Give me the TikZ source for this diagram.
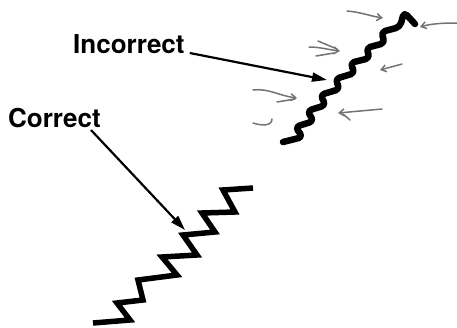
\documentclass[tikz,border=0pt]{standalone}
\usepackage{fontspec}
\setmainfont{TeX Gyre Heros}
\usepackage{xcolor}
\usepackage{tikz}
\usetikzlibrary{arrows.meta,positioning,calc}

\begin{document}
\begin{tikzpicture}[
    x=1pt, y=-1pt,
    lbl/.style={inner sep=0pt, anchor=base west, font=\fontsize{26}{30}\selectfont\bfseries},
    pointer/.style={-{Triangle[length=15pt, width=9pt]}, line width=2.2pt},
    stair/.style={line width=5.5pt, line join=miter},
    wavy/.style={line width=6.5pt, rounded corners=4.5pt, line cap=round, line join=round},
    force/.style={draw=black!55, line width=1.5pt, line cap=round},
    push/.style={force, -{Straight Barb[length=5pt, width=7pt]}}
]
    \useasboundingbox (0,0) rectangle (457,327);

    % Labels
    \node[lbl] (incorrect) at (73,53) {Incorrect};
    \node[lbl] (correct) at (8,127) {Correct};

    % Arrow targets on the seams
    \coordinate (itip) at (327,80);
    \coordinate (ctip) at (185,230);

    % Correct seam: sharp staircase
    \draw[stair] (93,323) -- (130,320) -- (117,303) -- (143,300) -- (138,280) -- (177,275)
        -- (162,257) -- (197,255) -- (183,235) -- (215,232) -- (202,213) -- (235,212)
        -- (223,190) -- (253,188);

    % Incorrect seam: rounded, wavy staircase
    \draw[wavy] (283,142) -- (303,137) -- (295,127) -- (314,121) -- (307,111) -- (326,105)
        -- (320,95) -- (340,89) -- (335,79) -- (355,73) -- (350,63) -- (370,58)
        -- (366,48) -- (385,43) -- (381,32) -- (400,27) -- (404,12) -- (415,24);

    % Pointers
    \draw[pointer] ([xshift=5pt]incorrect.base east) -- (itip);
    \draw[pointer] ([xshift=-10pt, yshift=-3pt]correct.base east) -- (ctip);

    % Pencil force marks
    \draw[push] (347,11) .. controls (360,12) and (370,16) .. (383,18);
    \draw[push] (457,23) .. controls (440,23) and (430,24) .. (420,27);
    \draw[push] (309,47) .. controls (320,47) and (330,50) .. (340,51);
    \draw[force] (318,41) -- (337,49);
    \draw[force] (316,56) -- (334,53);
    \draw[push] (402,64) -- (380,70);
    \draw[push] (253,90) .. controls (268,88) and (280,96) .. (297,98);
    \draw[force] (277,102) -- (295,99);
    \draw[push] (382,109) -- (338,113);
    \draw[force] (343,114) -- (350,120);
    \draw[force] (253,123) .. controls (262,126) and (272,126) .. (272,119);
\end{tikzpicture}
\end{document}
